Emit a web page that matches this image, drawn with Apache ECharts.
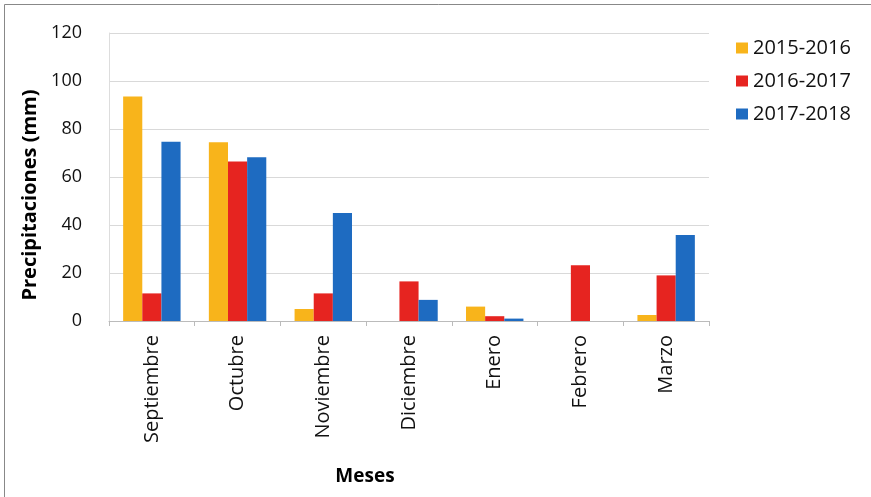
<!DOCTYPE html>
<html>
<head>
<meta charset="utf-8">
<script src="https://cdn.jsdelivr.net/npm/echarts@6/dist/echarts.min.js"></script>
<style>html,body{margin:0;padding:0;background:#fff}#c{width:871px;height:497px}</style>
</head>
<body>
<div id="c"></div>
<script>
var categories = ['Septiembre','Octubre','Noviembre','Diciembre','Enero','Febrero','Marzo'];
var seriesNames = ['2015-2016','2016-2017','2017-2018'];
var s2015 = [93.5, 74.5, 5, 0, 6, 0, 2.5];
var s2016 = [11.5, 66.5, 11.5, 16.5, 2, 23.2, 19];
var s2017 = [74.7, 68.2, 45, 8.8, 1, 0, 35.8];
var yTicks = {min: 0, max: 120, interval: 20};
var colors = ['#F8B41B', '#E62420', '#1E6BC1'];

var chart = echarts.init(document.getElementById('c'), null, {renderer: 'canvas'});
var font = 'Open Sans';
chart.setOption({
  animation: false,
  color: colors,
  textStyle: {fontFamily: font},
  graphic: [{
    type: 'rect', shape: {x: 4.5, y: 4.5, width: 880, height: 500},
    style: {fill: 'none', stroke: '#888', lineWidth: 1}, silent: true
  }],
  grid: {left: 109, right: 162, top: 33, bottom: 176},
  legend: {
    orient: 'vertical', left: 731, top: 33,
    itemWidth: 12, itemHeight: 11, itemGap: 13, icon: 'rect',
    textStyle: {fontSize: 20, color: '#111', fontFamily: font},
    data: seriesNames
  },
  xAxis: {
    type: 'category', data: categories,
    name: 'Meses', nameLocation: 'middle', nameGap: 146,
    nameTextStyle: {fontSize: 19, fontWeight: 'bold', color: '#000', fontFamily: font, padding: [0, 88, 0, 0]},
    axisLine: {lineStyle: {color: '#bbb'}},
    axisTick: {show: true, length: 5, lineStyle: {color: '#bbb'}},
    axisLabel: {rotate: 90, fontSize: 20, color: '#111', margin: 14, fontFamily: font}
  },
  yAxis: {
    type: 'value', min: yTicks.min, max: yTicks.max, interval: yTicks.interval,
    name: 'Precipitaciones (mm)', nameLocation: 'middle', nameGap: 58, nameRotate: 90,
    nameTextStyle: {fontSize: 20, fontWeight: 'bold', color: '#000', fontFamily: font, padding: [0, 36, 0, 0]},
    axisLine: {show: true, lineStyle: {color: '#ddd'}},
    axisTick: {show: false},
    axisLabel: {fontSize: 18, color: '#111', margin: 27, fontFamily: font},
    splitLine: {lineStyle: {color: '#d9d9d9'}}
  },
  series: [
    {name: seriesNames[0], type: 'bar', data: s2015, barGap: '0%', barCategoryGap: '33%'},
    {name: seriesNames[1], type: 'bar', data: s2016, barGap: '0%', barCategoryGap: '33%'},
    {name: seriesNames[2], type: 'bar', data: s2017, barGap: '0%', barCategoryGap: '33%'}
  ]
});
</script>
</body>
</html>
